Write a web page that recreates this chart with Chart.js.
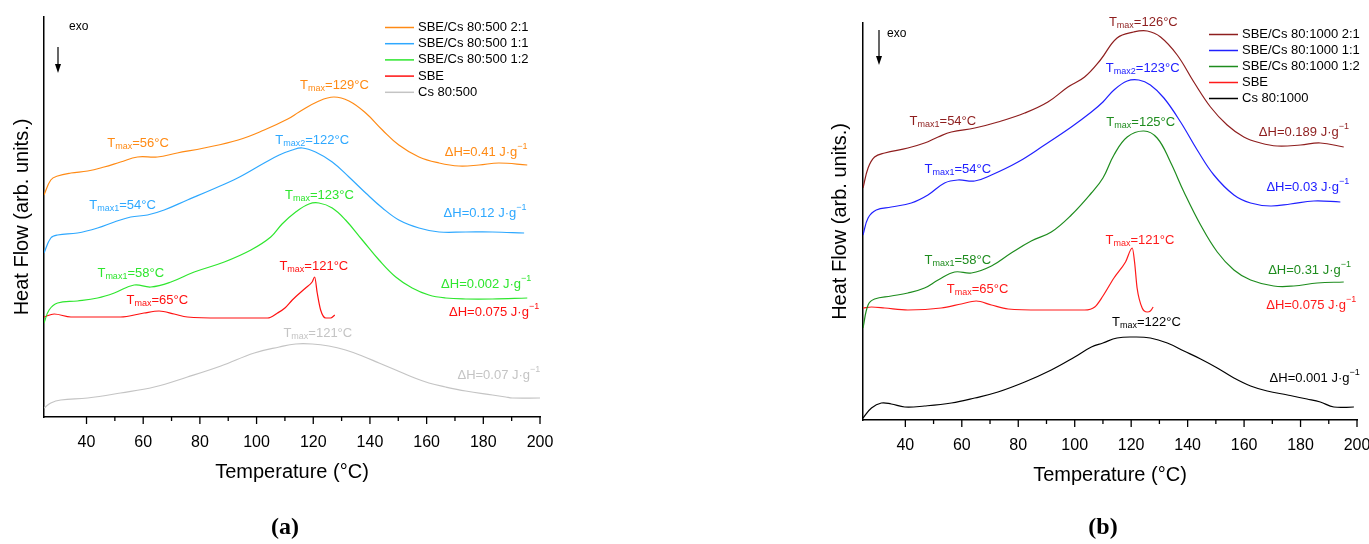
<!DOCTYPE html>
<html>
<head>
<meta charset="utf-8">
<script src="https://cdn.jsdelivr.net/npm/chart.js@4.4.1/dist/chart.umd.min.js"></script>
<style>
  body { margin: 0; background: #fff; width: 1369px; height: 544px; position: relative; overflow: hidden; }
  canvas { position: absolute; top: 0; }
  #chartA { left: 0; }
  #chartB { left: 820px; }
  .cap { position: absolute; top: 511px; width: 80px; text-align: center; font: bold 24px "Liberation Serif", "DejaVu Serif", serif; line-height: 30px; color: #000; }
</style>
</head>
<body>
<canvas id="chartA" width="560" height="544"></canvas>
<canvas id="chartB" width="549" height="544"></canvas>
<div class="cap" style="left:245px">(a)</div>
<div class="cap" style="left:1063px">(b)</div>
<script>
// ---- panel (a): SBE/Cs 80:500 ----
const tA21 = [25, 27.4, 29.8, 34.5, 40.4, 46.2, 52, 58, 65, 72, 81.5, 93.5, 102.7, 111, 115, 122, 127.3, 132.6, 138.5, 144.4, 150.2, 157.3, 164.4, 171.4, 178.5, 185.5, 195.5];
const hfA21 = [222, 237, 241, 244, 246, 250, 255, 260, 260, 264, 269, 277, 287, 298, 305, 316, 320, 316, 304, 287, 272, 260, 254, 251, 252, 254, 252];
const tA11 = [25, 27.4, 29.8, 36.8, 43.9, 49.8, 55.6, 61.5, 67.4, 75.6, 83.9, 93.3, 102.7, 108, 112.6, 116.1, 120.8, 126.7, 132.6, 138.5, 144.4, 150.2, 157.3, 164.4, 173.8, 183.2, 194.4];
const hfA11 = [164, 179, 182, 184, 189, 195, 200, 202, 207, 217, 227, 239, 254, 262, 267, 269, 265, 255, 240, 224, 209, 197, 189, 185, 185, 185, 184];
const tA12 = [25, 26.8, 29.8, 36.8, 43.9, 49.8, 56.8, 62.7, 69.8, 78, 88.6, 98, 105, 109, 113.8, 118.5, 122, 126.7, 131.4, 137.3, 143.2, 149.1, 154.9, 160.8, 166.7, 173.8, 183.2, 195.5];
const hfA12 = [94, 107, 114, 116, 119, 124, 132, 130, 135, 145, 155, 167, 180, 193, 205, 213, 214, 209, 197, 177, 157, 140, 129, 122, 119, 118, 118, 119];
const tASBE = [25, 28.6, 34.5, 40.4, 52, 60.3, 65.6, 70.9, 75.6, 87.4, 103.9, 107.4, 110, 112.6, 117.3, 119.6, 120.5, 121.4, 122.6, 124.4, 126.1, 127.6];
const hfASBE = [100, 103, 100, 100, 100, 104, 106, 103, 100, 99, 99, 104, 109, 117, 129, 135, 140, 124, 107, 99, 99, 102];
const tACs = [25, 27.4, 30.9, 40.4, 52, 63.9, 75.6, 87.4, 99.2, 108, 113.8, 119.6, 125.5, 131.4, 137.3, 143.2, 149.1, 154.9, 160.8, 166.7, 173.8, 183.2, 187.9, 190.2, 200];
const hfACs = [9, 14, 17, 19, 24, 30, 40, 51, 64, 70, 73, 73, 71, 67, 61, 54, 47, 40, 34, 30, 26, 22, 20, 19, 19];

// ---- panel (b): SBE/Cs 80:1000 ----
const tB21 = [25, 26.8, 29.1, 32.7, 40.9, 46.8, 51.6, 56.3, 64.6, 72.8, 82.3, 90.5, 97.6, 103.5, 109.1, 115, 120.9, 125.7, 130.4, 136.3, 142.2, 148.1, 154, 159.9, 165.8, 171.7, 180, 187, 195.3];
const hfB21 = [232, 252, 263, 267, 272, 277, 283, 288, 292, 298, 307, 318, 333, 343, 360, 382, 388, 389, 383, 365, 338, 313, 295, 283, 277, 274, 275, 277, 273];
const tB11 = [25, 26.8, 29.7, 35, 42.1, 48, 53.9, 58.6, 64.6, 70.5, 79.9, 89.3, 98.8, 105.9, 110, 113.9, 118.6, 122.7, 126.8, 131.6, 137.5, 143.4, 149.3, 156.4, 162.3, 169.3, 176.4, 184.7, 194.1];
const hfB11 = [185, 202, 210, 213, 217, 225, 237, 240, 239, 245, 258, 275, 293, 308, 318, 330, 339, 340, 335, 322, 298, 270, 245, 225, 217, 214, 216, 219, 218];
const tB12 = [25, 26.8, 29.1, 35, 40.9, 46.8, 51.6, 57.5, 63.4, 70.5, 77.5, 84.6, 91.7, 98.8, 105.9, 110, 113.9, 118.6, 124.5, 129.2, 133.9, 138.7, 144.6, 150.5, 156.4, 162.3, 170.5, 177.6, 185.9, 195.3];
const hfB12 = [92, 115, 121, 124, 127, 132, 140, 148, 147, 154, 167, 179, 188, 205, 227, 242, 265, 283, 289, 282, 258, 228, 195, 168, 150, 140, 134, 134, 137, 138];
const tBSBE = [25, 28, 32.7, 40.9, 52.7, 59.8, 65.1, 70.5, 76.4, 88.2, 103.5, 107.1, 110, 113.9, 118, 120.4, 121.2, 122.1, 123.9, 125.7, 126.8, 127.8];
const hfBSBE = [112, 113, 112, 110, 112, 116, 119, 115, 111, 110, 110, 113, 124, 142, 158, 172, 158, 132, 112, 108, 109, 113];
const tBCs = [25, 28, 31.5, 35, 39.8, 46.8, 56.3, 64.6, 72.8, 82.3, 91.7, 100, 105.9, 110, 115, 120.9, 126.8, 132.8, 138.7, 144.6, 150.5, 156.4, 162.3, 168.2, 175.4, 182.3, 187, 191.8, 198.9];
const hfBCs = [2, 12, 17, 16, 13, 14, 17, 22, 28, 38, 50, 63, 73, 77, 82, 83, 82, 77, 69, 61, 52, 42, 34, 29, 25, 21, 18, 13, 13];

const labelsA = ["SBE/Cs 80:500 2:1", "SBE/Cs 80:500 1:1", "SBE/Cs 80:500 1:2", "SBE", "Cs 80:500"];
const labelsB = ["SBE/Cs 80:1000 2:1", "SBE/Cs 80:1000 1:1", "SBE/Cs 80:1000 1:2", "SBE", "Cs 80:1000"];

// peak / enthalpy notes: s = series index, t = temperature, v = heat flow
const notesA = [
  { s: 0, t: 58.2, v: 274, text: "T_{max}=56°C" },
  { s: 0, t: 127.5, v: 332, text: "T_{max}=129°C" },
  { s: 0, t: 181, v: 265, text: "ΔH=0.41 J·g^{−1}" },
  { s: 1, t: 52.7, v: 212, text: "T_{max1}=54°C" },
  { s: 1, t: 119.6, v: 277, text: "T_{max2}=122°C" },
  { s: 1, t: 180.6, v: 204, text: "ΔH=0.12 J·g^{−1}" },
  { s: 2, t: 55.6, v: 144, text: "T_{max1}=58°C" },
  { s: 2, t: 122.2, v: 222, text: "T_{max}=123°C" },
  { s: 2, t: 181, v: 133, text: "ΔH=0.002 J·g^{−1}" },
  { s: 3, t: 65, v: 117, text: "T_{max}=65°C" },
  { s: 3, t: 120.2, v: 151, text: "T_{max}=121°C" },
  { s: 3, t: 183.8, v: 105, text: "ΔH=0.075 J·g^{−1}" },
  { s: 4, t: 121.6, v: 84, text: "T_{max}=121°C" },
  { s: 4, t: 185.5, v: 42, text: "ΔH=0.07 J·g^{−1}" }
];
const notesB = [
  { s: 0, t: 53.3, v: 299, text: "T_{max1}=54°C" },
  { s: 0, t: 124.3, v: 398, text: "T_{max}=126°C" },
  { s: 0, t: 181.2, v: 288, text: "ΔH=0.189 J·g^{−1}" },
  { s: 1, t: 58.6, v: 251, text: "T_{max1}=54°C" },
  { s: 1, t: 124.1, v: 352, text: "T_{max2}=123°C" },
  { s: 1, t: 182.6, v: 233, text: "ΔH=0.03 J·g^{−1}" },
  { s: 2, t: 58.6, v: 160, text: "T_{max1}=58°C" },
  { s: 2, t: 123.4, v: 298, text: "T_{max}=125°C" },
  { s: 2, t: 183.2, v: 150, text: "ΔH=0.31 J·g^{−1}" },
  { s: 3, t: 65.6, v: 131, text: "T_{max}=65°C" },
  { s: 3, t: 123.1, v: 180, text: "T_{max}=121°C" },
  { s: 3, t: 183.8, v: 115, text: "ΔH=0.075 J·g^{−1}" },
  { s: 4, t: 125.4, v: 98, text: "T_{max}=122°C" },
  { s: 4, t: 185, v: 42, text: "ΔH=0.001 J·g^{−1}" }
];

const colorsA = ["#ff8a14", "#2ea8ff", "#2ee62e", "#ff1010", "#c4c4c4"];
const colorsB = ["#8e1e1e", "#2020ff", "#1e8c1e", "#ff1a1a", "#000000"];

const FONT = '"Liberation Sans", Arial, sans-serif';
Chart.defaults.font.family = FONT;
Chart.defaults.color = "#000";

function pts(ts, hs) {
  return ts.map((t, i) => ({ x: t, y: hs[i] }));
}

// split "T_{max}=56°C" into normal / sub / sup pieces
function pieces(str) {
  const out = [];
  const re = /([_^])\{([^}]*)\}/g;
  let last = 0, m;
  while ((m = re.exec(str))) {
    if (m.index > last) out.push({ s: str.slice(last, m.index), k: "" });
    out.push({ s: m[2], k: m[1] });
    last = re.lastIndex;
  }
  if (last < str.length) out.push({ s: str.slice(last), k: "" });
  return out;
}

const notesPlugin = {
  id: "notes",
  afterDatasetsDraw(chart, args, opts) {
    const ctx = chart.ctx, xs = chart.scales.x, ys = chart.scales.y;
    ctx.save();
    ctx.textBaseline = "middle";
    opts.items.forEach(n => {
      const parts = pieces(n.text);
      let w = 0;
      parts.forEach(p => {
        ctx.font = (p.k ? "9px " : "13px ") + FONT;
        p.w = ctx.measureText(p.s).width;
        w += p.w;
      });
      let x = xs.getPixelForValue(n.t) - w / 2;
      const y = ys.getPixelForValue(n.v);
      ctx.fillStyle = chart.data.datasets[n.s].borderColor;
      parts.forEach(p => {
        ctx.font = (p.k ? "9px " : "13px ") + FONT;
        const dy = p.k === "_" ? 4 : p.k === "^" ? -5 : 0;
        ctx.fillText(p.s, x, y + dy);
        x += p.w;
      });
    });
    ctx.restore();
  }
};

const legendPlugin = {
  id: "insideLegend",
  afterDraw(chart, args, opts) {
    const ctx = chart.ctx;
    ctx.save();
    ctx.font = "13px " + FONT;
    ctx.textBaseline = "middle";
    chart.data.datasets.forEach((ds, i) => {
      const y = opts.y + i * opts.gap;
      ctx.strokeStyle = ds.borderColor;
      ctx.lineWidth = 1.5;
      ctx.beginPath();
      ctx.moveTo(opts.x, y);
      ctx.lineTo(opts.x + 29, y);
      ctx.stroke();
      ctx.fillStyle = "#000";
      ctx.fillText(ds.label, opts.x + 33, y);
    });
    ctx.restore();
  }
};

// minor / major tick marks under the x axis, plus the exo arrow
const ticksPlugin = {
  id: "tickMarks",
  afterDraw(chart, args, opts) {
    const ctx = chart.ctx, xs = chart.scales.x, area = chart.chartArea;
    ctx.save();
    ctx.strokeStyle = "#000";
    ctx.lineWidth = 1.3;
    xs.ticks.forEach(t => {
      if (t.value <= xs.min) return;
      const px = xs.getPixelForValue(t.value);
      const len = t.value % 20 === 0 ? 7 : 4;
      ctx.beginPath();
      ctx.moveTo(px, area.bottom);
      ctx.lineTo(px, area.bottom + len);
      ctx.stroke();
    });
    // exo arrow
    const ax = area.left + opts.ax;
    ctx.lineWidth = 1.2;
    ctx.beginPath();
    ctx.moveTo(ax, area.top + opts.a0);
    ctx.lineTo(ax, area.top + opts.a1 - 6);
    ctx.stroke();
    ctx.fillStyle = "#000";
    ctx.beginPath();
    ctx.moveTo(ax - 3, area.top + opts.a1 - 9);
    ctx.lineTo(ax + 3, area.top + opts.a1 - 9);
    ctx.lineTo(ax, area.top + opts.a1);
    ctx.closePath();
    ctx.fill();
    ctx.font = "12px " + FONT;
    ctx.textBaseline = "middle";
    ctx.fillText("exo", area.left + opts.tx, area.top + opts.ty);
    ctx.restore();
  }
};

function makeChart(id, series, labels, colors, notes, cfg) {
  const datasets = series.map((s, i) => ({
    label: labels[i],
    data: pts(s[0], s[1]),
    borderColor: colors[i],
    borderWidth: 1.2,
    pointRadius: 0,
    // SBE has a sharp peak, keep it monotone; the rest are smooth
    cubicInterpolationMode: i === 3 ? "monotone" : "default",
    tension: 0.4,
    fill: false
  }));
  return new Chart(document.getElementById(id), {
    type: "line",
    data: { datasets: datasets },
    plugins: [notesPlugin, legendPlugin, ticksPlugin],
    options: {
      responsive: false,
      animation: false,
      layout: { padding: { top: cfg.top, right: cfg.right, left: 0, bottom: 0 } },
      plugins: {
        legend: { display: false },
        tooltip: { enabled: false },
        notes: { items: notes },
        insideLegend: cfg.legend,
        tickMarks: cfg.exo
      },
      scales: {
        x: {
          type: "linear",
          min: 25,
          max: 200,
          afterFit: s => {
            s.height = cfg.xHeight;
            s.paddingLeft = 0;
            s.paddingRight = 0;
          },
          grid: { display: false },
          border: { display: true, color: "#000", width: 1.5 },
          ticks: {
            stepSize: 10,
            autoSkip: false,
            maxRotation: 0,
            padding: 8,
            color: "#000",
            font: { size: 16 },
            callback: v => (v % 20 === 0 && v >= 40 ? v : "")
          },
          title: {
            display: true,
            text: "Temperature (°C)",
            color: "#000",
            font: { size: 20 },
            padding: { top: 0, bottom: cfg.xTitlePad }
          }
        },
        y: {
          min: 0,
          max: cfg.yMax,
          afterFit: s => { s.width = cfg.yWidth; },
          grid: { display: false },
          border: { display: true, color: "#000", width: 1.5 },
          ticks: { display: false },
          title: {
            display: true,
            text: "Heat Flow (arb. units.)",
            color: "#000",
            font: { size: 20 },
            padding: { top: cfg.yTitlePad, bottom: 0 }
          }
        }
      }
    }
  });
}

makeChart("chartA",
  [[tA21, hfA21], [tA11, hfA11], [tA12, hfA12], [tASBE, hfASBE], [tACs, hfACs]],
  labelsA, colorsA, notesA,
  { top: 17, right: 20, xHeight: 127, yWidth: 44, yMax: 400, xTitlePad: 60, yTitlePad: 10,
    legend: { x: 385, y: 27.5, gap: 16.2 },
    exo: { ax: 14, a0: 30, a1: 56, tx: 25, ty: 10 } });

makeChart("chartB",
  [[tB21, hfB21], [tB11, hfB11], [tB12, hfB12], [tBSBE, hfBSBE], [tBCs, hfBCs]],
  labelsB, colorsB, notesB,
  { top: 23, right: 12, xHeight: 124, yWidth: 43, yMax: 397, xTitlePad: 57, yTitlePad: 8,
    legend: { x: 389, y: 34.5, gap: 16 },
    exo: { ax: 16, a0: 7, a1: 42, tx: 24, ty: 11 } });
</script>
</body>
</html>
